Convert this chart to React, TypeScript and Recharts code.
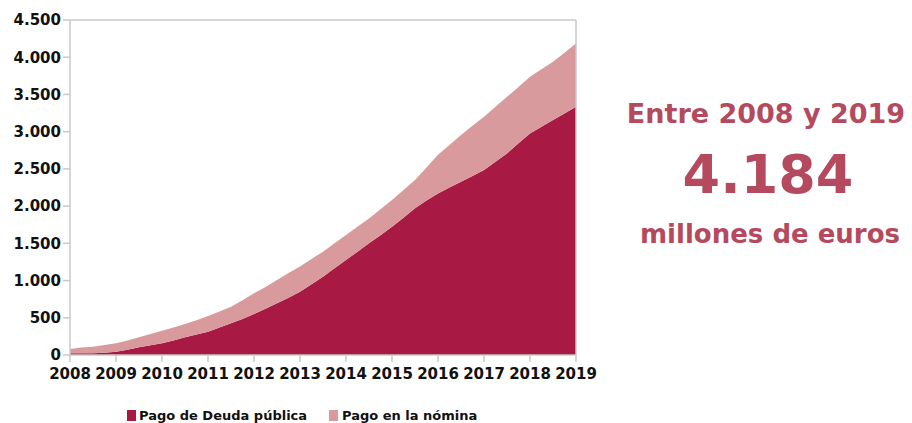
import React from 'react';
import { AreaChart, Area, XAxis, YAxis, ReferenceLine } from 'recharts';

const periods = [
  2008, 2008.25, 2008.5, 2008.75,
  2009, 2009.25, 2009.5, 2009.75,
  2010, 2010.25, 2010.5, 2010.75,
  2011, 2011.25, 2011.5, 2011.75,
  2012, 2012.25, 2012.5, 2012.75,
  2013, 2013.25, 2013.5, 2013.75,
  2014, 2014.25, 2014.5, 2014.75,
  2015, 2015.25, 2015.5, 2015.75,
  2016, 2016.25, 2016.5, 2016.75,
  2017, 2017.25, 2017.5, 2017.75,
  2018, 2018.25, 2018.5, 2018.75,
  2019,
];

const deuda = [
  22, 22, 22, 30,
  45, 72, 103, 130,
  157, 195, 237, 275,
  313, 368, 425, 485,
  550, 620, 694, 770,
  850, 950, 1052, 1165,
  1276, 1388, 1500, 1610,
  1723, 1845, 1970, 2075,
  2171, 2250, 2327, 2405,
  2484, 2595, 2708, 2845,
  2977, 3065, 3156, 3245,
  3335,
];

const nomina = [
  58, 78, 90, 105,
  112, 123, 134, 152,
  170, 175, 179, 193,
  211, 217, 224, 250,
  278, 295, 313, 330,
  340, 340, 336, 335,
  335, 334, 335, 348,
  359, 370, 380, 445,
  519, 570, 628, 673,
  716, 740, 761, 755,
  761, 775, 783, 815,
  849,
];

const yearTicks = [2008, 2009, 2010, 2011, 2012, 2013, 2014, 2015, 2016, 2017, 2018, 2019];
const valueTicks = [0, 500, 1000, 1500, 2000, 2500, 3000, 3500, 4000, 4500];

const seriesNames = ['Pago de Deuda pública', 'Pago en la nómina'];
const headline = ['Entre 2008 y 2019', '4.184', 'millones de euros'];

const DARK = '#a81a44';
const LIGHT = '#d89a9c';
const AXIS = '#c8c8c8';
const ACCENT = '#b54a5e';
const FONT = '"DejaVu Sans", sans-serif';

const data = periods.map((p, i) => ({ p, deuda: deuda[i], nomina: nomina[i] }));

const fmt = (v: number) =>
  v >= 1000 ? `${Math.floor(v / 1000)}.${String(v % 1000).padStart(3, '0')}` : String(v);

const tickStyle = { fontSize: 15, fontWeight: 700, fill: '#111', fontFamily: FONT };

export default function App() {
  return (
    <div style={{ position: 'absolute', left: 0, top: 0, width: 912, height: 423, background: '#fff' }}>
      <AreaChart width={600} height={423} data={data} margin={{ top: 20, right: 24, bottom: 38, left: 0 }}>
        <XAxis
          type="number"
          dataKey="p"
          domain={[2008, 2019]}
          ticks={yearTicks}
          interval={0}
          height={30}
          tickSize={7}
          tickMargin={6}
          tick={tickStyle}
          stroke={AXIS}
          strokeWidth={1.5}
          allowDataOverflow
        />
        <YAxis
          type="number"
          domain={[0, 4500]}
          ticks={valueTicks}
          interval={0}
          width={70}
          tickSize={7}
          tickMargin={2}
          tick={tickStyle}
          tickFormatter={fmt}
          stroke={AXIS}
          strokeWidth={1.5}
        />
        <Area
          type="linear"
          dataKey="deuda"
          stackId="a"
          fill={DARK}
          fillOpacity={1}
          stroke="none"
          isAnimationActive={false}
        />
        <Area
          type="linear"
          dataKey="nomina"
          stackId="a"
          fill={LIGHT}
          fillOpacity={1}
          stroke="none"
          isAnimationActive={false}
        />
        <ReferenceLine y={4500} stroke={AXIS} strokeWidth={1.5} />
        <ReferenceLine x={2019} stroke={AXIS} strokeWidth={1.5} />
      </AreaChart>
      <svg width={912} height={423} style={{ position: 'absolute', left: 0, top: 0, pointerEvents: 'none' }}>
        <rect x={127} y={410} width={9} height={11} fill={DARK} />
        <text x={139} y={420} fontSize={13} fontWeight={700} fontFamily={FONT} fill="#111">
          {seriesNames[0]}
        </text>
        <rect x={329} y={410} width={9} height={11} fill={LIGHT} />
        <text x={342} y={420} fontSize={13} fontWeight={700} fontFamily={FONT} fill="#111">
          {seriesNames[1]}
        </text>
        <text x={766} y={123} textAnchor="middle" fontSize={27} fontWeight={700} fontFamily={FONT} fill={ACCENT}>
          {headline[0]}
        </text>
        <text x={768} y={193} textAnchor="middle" fontSize={54} fontWeight={700} fontFamily={FONT} fill={ACCENT}>
          {headline[1]}
        </text>
        <text x={770} y={243} textAnchor="middle" fontSize={26} fontWeight={700} fontFamily={FONT} fill={ACCENT}>
          {headline[2]}
        </text>
      </svg>
    </div>
  );
}
